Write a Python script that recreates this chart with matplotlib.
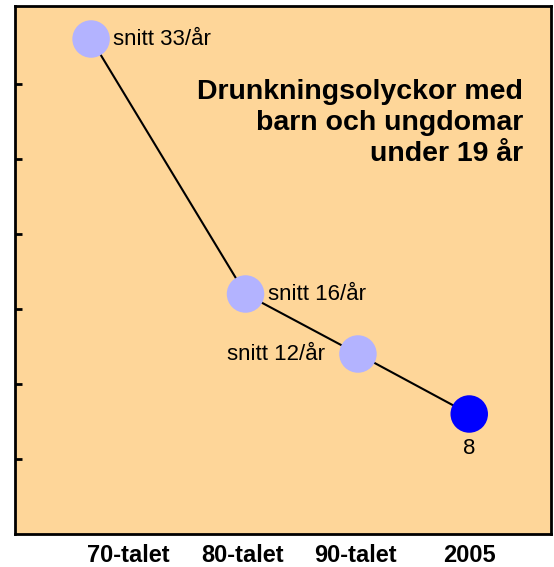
import matplotlib
matplotlib.use("Agg")
import matplotlib.pyplot as plt

# data
periods = ["70-talet", "80-talet", "90-talet", "2005"]
tick_pos = [1, 2, 3, 4]
point_x = [0.67, 2.03, 3.02, 4.0]
deaths = [33, 16, 12, 8]
labels = ["snitt 33/år", "snitt 16/år", "snitt 12/år", "8"]
point_colors = ["#b3b3ff", "#b3b3ff", "#b3b3ff", "#0000ff"]

plt.rcParams["font.family"] = ["Liberation Sans", "DejaVu Sans"]

fig = plt.figure(figsize=(5.54, 5.67), dpi=100)
ax = fig.add_axes([15 / 554, 33 / 567, 536 / 554, 528 / 567])
ax.set_facecolor("#fed699")

ax.plot(point_x, deaths, color="black", linewidth=1.5, zorder=2)
ax.scatter(point_x, deaths, s=27 ** 2, c=point_colors, zorder=3, linewidths=0)

# value labels: (dx, dy) in points, alignment
offsets = [(16, 0, "left", "center"), (16, 0, "left", "center"),
           (-24, 0, "right", "center"), (0, -17, "center", "top")]
for x, y, txt, (dx, dy, ha, va) in zip(point_x, deaths, labels, offsets):
    ax.annotate(txt, (x, y), xytext=(dx, dy), textcoords="offset points",
                ha=ha, va=va, fontsize=16)

ax.text(0.948, 0.862, "Drunkningsolyckor med\nbarn och ungdomar\nunder 19 år",
        transform=ax.transAxes, ha="right", va="top", fontsize=20.5,
        fontweight="bold", linespacing=1.25)

ax.set_xlim(0, 4.72)
ax.set_ylim(0, 35.2)
ax.set_xticks(tick_pos)
ax.set_xticklabels(periods, fontsize=17, fontweight="bold")
ax.set_yticks(range(5, 35, 5))
ax.set_yticklabels([])
ax.tick_params(axis="x", length=0, pad=7)
ax.tick_params(axis="y", direction="in", length=5, width=2)
for s in ax.spines.values():
    s.set_linewidth(2)

fig.savefig("out.png", dpi=100)
